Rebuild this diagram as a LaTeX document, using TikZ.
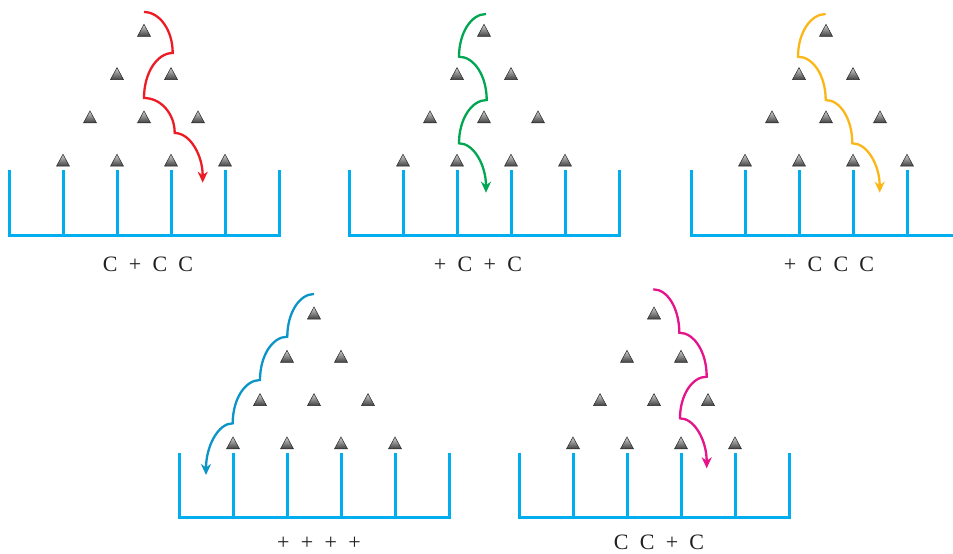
\documentclass[tikz,border=0pt]{standalone}
\usepackage{fontspec}
\setmainfont{Liberation Serif}
\usetikzlibrary{arrows.meta}
\definecolor{wallcyan}{HTML}{00AEEF}
\definecolor{pathred}{HTML}{ED1C24}
\definecolor{pathgreen}{HTML}{00A651}
\definecolor{pathyellow}{HTML}{FBB617}
\definecolor{pathblue}{HTML}{0A94C8}
\definecolor{pathmagenta}{HTML}{E5148A}
\definecolor{textgray}{HTML}{231F20}
\newcommand\outfont{\fontsize{22}{26}\selectfont}
\newcommand\outsp{\hspace{11.3pt}}
\tikzset{
  peg/.style={top color=gray!35, bottom color=black!75, draw=black!85, line width=0.5pt},
  wall/.style={draw=wallcyan, line width=3pt},
  ball/.style={line width=2.3pt, -{Stealth[length=11pt,width=10pt,inset=3.5pt]}},
  outcome/.style={anchor=base, text=textgray, inner sep=0pt, font=\outfont}
}
\newcommand\drawboard[2]{%
  \begin{scope}[shift={(#1,#2)}]
    \foreach \rr in {0,...,3}{
      \foreach \ii in {0,...,\rr}{
        \path[peg] ({(2*\ii-\rr)*27-6.5},{\rr*43.3+6}) -- ++(13,0) -- ++(-6.5,-12) -- cycle;
      }
    }
    \draw[wall] (-135,139.7) -- (-135,204.7) -- (135,204.7) -- (135,139.7);
    \foreach \jj in {1,...,4}{
      \draw[wall] ({(2*\jj-5)*27},139.7) -- ({(2*\jj-5)*27},204.7);
    }
  \end{scope}}
\begin{document}
\begin{tikzpicture}[x=1pt,y=-1pt]
  \useasboundingbox (0,0) rectangle (953,554);
  \clip (0,0) rectangle (953,554);
  % boards
  \drawboard{144}{30.3}
  \drawboard{484}{30.3}
  \drawboard{826}{30.3}
  \drawboard{314}{313}
  \drawboard{654}{313}
  % red path: C + C C
  \coordinate (r0) at (144,12);
  \coordinate (r1) at (172.7,53);
  \coordinate (r2) at (144,98);
  \coordinate (r3) at (174.7,133);
  \coordinate (r4) at (202.7,182.7);
  \draw[ball, pathred] (r0) .. controls +(15.8,0) and +(0,-22.6) .. (r1)
    .. controls +(-15.8,0) and +(0,-24.8) .. (r2)
    .. controls +(16.9,0) and +(0,-19.3) .. (r3)
    .. controls +(15.5,0) and +(0,-27.4) .. (r4);
  % green path: + C + C
  \coordinate (g0) at (486,14);
  \coordinate (g1) at (459,56.7);
  \coordinate (g2) at (486.7,100);
  \coordinate (g3) at (459,143.3);
  \coordinate (g4) at (486,192.7);
  \draw[ball, pathgreen] (g0) .. controls +(-14.9,0) and +(0,-23.6) .. (g1)
    .. controls +(15.3,0) and +(0,-23.9) .. (g2)
    .. controls +(-15.3,0) and +(0,-23.9) .. (g3)
    .. controls +(14.9,0) and +(0,-27.3) .. (g4);
  % yellow path: + C C C
  \coordinate (y0) at (825.7,14);
  \coordinate (y1) at (798,56.7);
  \coordinate (y2) at (825.7,100);
  \coordinate (y3) at (852.3,143.3);
  \coordinate (y4) at (879.7,192.7);
  \draw[ball, pathyellow] (y0) .. controls +(-15.3,0) and +(0,-23.6) .. (y1)
    .. controls +(15.3,0) and +(0,-23.9) .. (y2)
    .. controls +(14.7,0) and +(0,-23.9) .. (y3)
    .. controls +(15.1,0) and +(0,-27.3) .. (y4);
  % blue path: + + + +
  \coordinate (b0) at (314,294);
  \coordinate (b1) at (287.3,336.7);
  \coordinate (b2) at (260,380);
  \coordinate (b3) at (232.7,423.3);
  \coordinate (b4) at (206,475);
  \draw[ball, pathblue] (b0) .. controls +(-14.7,0) and +(0,-23.6) .. (b1)
    .. controls +(-15.1,0) and +(0,-23.9) .. (b2)
    .. controls +(-15.1,0) and +(0,-23.9) .. (b3)
    .. controls +(-14.7,0) and +(0,-28.5) .. (b4);
  % magenta path: C C + C
  \coordinate (m0) at (653.3,289.3);
  \coordinate (m1) at (679.3,332.7);
  \coordinate (m2) at (706.7,376.7);
  \coordinate (m3) at (680,418.3);
  \coordinate (m4) at (706.7,468.3);
  \draw[ball, pathmagenta] (m0) .. controls +(14.4,0) and +(0,-24) .. (m1)
    .. controls +(15.1,0) and +(0,-24.3) .. (m2)
    .. controls +(-14.7,0) and +(0,-23) .. (m3)
    .. controls +(14.7,0) and +(0,-27.6) .. (m4);
  % outcome labels
  \node[outcome] (lab1) at (148,271.7) {C\outsp+\outsp C\outsp C};
  \node[outcome] (lab2) at (478,271.7) {+\outsp C\outsp+\outsp C};
  \node[outcome] (lab3) at (829,271.7) {+\outsp C\outsp C\outsp C};
  \node[outcome] (lab4) at (319,549.5) {+\outsp+\outsp+\outsp+};
  \node[outcome] (lab5) at (659,549.5) {C\outsp C\outsp+\outsp C};
\end{tikzpicture}
\end{document}
